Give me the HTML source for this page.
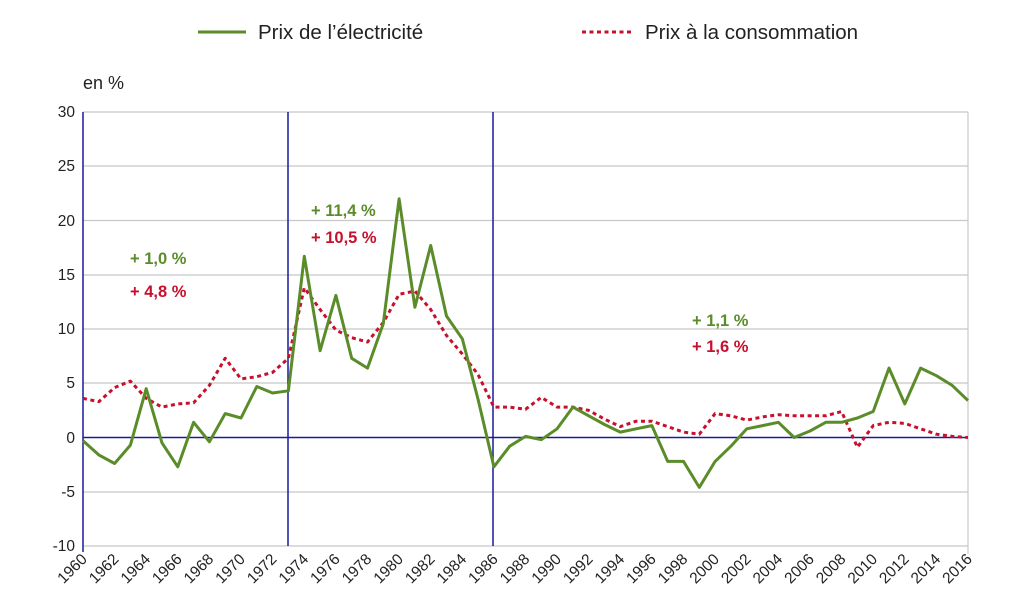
<!DOCTYPE html>
<html><head><meta charset="utf-8"><style>
body{margin:0;background:#fff;}
svg text{font-family:"Liberation Sans",sans-serif;}
</style></head><body>
<svg width="1024" height="609" xmlns="http://www.w3.org/2000/svg">
<g stroke="#c8c8c8" stroke-width="1.2">
<line x1="83" x2="968" y1="112" y2="112"/><line x1="83" x2="968" y1="166" y2="166"/>
<line x1="83" x2="968" y1="220.5" y2="220.5"/><line x1="83" x2="968" y1="275" y2="275"/>
<line x1="83" x2="968" y1="329" y2="329"/><line x1="83" x2="968" y1="383" y2="383"/>
<line x1="83" x2="968" y1="492" y2="492"/><line x1="83" x2="968" y1="546" y2="546"/>
<line x1="968" x2="968" y1="112" y2="554"/>
</g>
<g stroke="#1a1a9a" stroke-width="1.5">
<line x1="83" x2="83" y1="112" y2="552"/>
<line x1="83" x2="968" y1="437.5" y2="437.5"/>
<line x1="288" x2="288" y1="112" y2="546"/>
<line x1="493" x2="493" y1="112" y2="546"/>
</g>
<g font-size="15.5" fill="#222" text-anchor="end">
<text x="75" y="117">30</text><text x="75" y="171">25</text><text x="75" y="226">20</text>
<text x="75" y="280">15</text><text x="75" y="334">10</text><text x="75" y="388">5</text>
<text x="75" y="443">0</text><text x="75" y="497">-5</text><text x="75" y="551">-10</text>
</g>
<text x="83" y="89" font-size="18" fill="#222">en %</text>
<g font-size="15.5" fill="#222" text-anchor="end">
<text transform="translate(88,560) rotate(-45)">1960</text>
<text transform="translate(119.6,560) rotate(-45)">1962</text>
<text transform="translate(151.2,560) rotate(-45)">1964</text>
<text transform="translate(182.8,560) rotate(-45)">1966</text>
<text transform="translate(214.4,560) rotate(-45)">1968</text>
<text transform="translate(246,560) rotate(-45)">1970</text>
<text transform="translate(277.6,560) rotate(-45)">1972</text>
<text transform="translate(309.3,560) rotate(-45)">1974</text>
<text transform="translate(340.9,560) rotate(-45)">1976</text>
<text transform="translate(372.5,560) rotate(-45)">1978</text>
<text transform="translate(404.1,560) rotate(-45)">1980</text>
<text transform="translate(435.7,560) rotate(-45)">1982</text>
<text transform="translate(467.3,560) rotate(-45)">1984</text>
<text transform="translate(498.9,560) rotate(-45)">1986</text>
<text transform="translate(530.5,560) rotate(-45)">1988</text>
<text transform="translate(562.1,560) rotate(-45)">1990</text>
<text transform="translate(593.7,560) rotate(-45)">1992</text>
<text transform="translate(625.3,560) rotate(-45)">1994</text>
<text transform="translate(656.9,560) rotate(-45)">1996</text>
<text transform="translate(688.5,560) rotate(-45)">1998</text>
<text transform="translate(720.1,560) rotate(-45)">2000</text>
<text transform="translate(751.7,560) rotate(-45)">2002</text>
<text transform="translate(783.4,560) rotate(-45)">2004</text>
<text transform="translate(815,560) rotate(-45)">2006</text>
<text transform="translate(846.6,560) rotate(-45)">2008</text>
<text transform="translate(878.2,560) rotate(-45)">2010</text>
<text transform="translate(909.8,560) rotate(-45)">2012</text>
<text transform="translate(941.4,560) rotate(-45)">2014</text>
<text transform="translate(973,560) rotate(-45)">2016</text>
</g>
<polyline id="red" fill="none" stroke="#c8102e" stroke-width="3" stroke-dasharray="4 3.5" stroke-linejoin="round"/>
<polyline id="grn" fill="none" stroke="#5b8c2a" stroke-width="3" stroke-linejoin="round"/>
<g font-size="16.5" font-weight="bold">
<text x="130" y="264" fill="#5b8c2a">+ 1,0 %</text>
<text x="130" y="297" fill="#c8102e">+ 4,8 %</text>
<text x="311" y="216" fill="#5b8c2a">+ 11,4 %</text>
<text x="311" y="243" fill="#c8102e">+ 10,5 %</text>
<text x="692" y="326" fill="#5b8c2a">+ 1,1 %</text>
<text x="692" y="352" fill="#c8102e">+ 1,6 %</text>
</g>
<line x1="198" x2="246" y1="32" y2="32" stroke="#5b8c2a" stroke-width="3"/>
<text x="258" y="39" font-size="20.5" fill="#222">Prix de l’électricité</text>
<line x1="582" x2="633" y1="32" y2="32" stroke="#c8102e" stroke-width="3" stroke-dasharray="4 3.5"/>
<text x="645" y="39" font-size="20.5" fill="#222">Prix à la consommation</text>
<script>
var g=[-0.3,-1.6,-2.4,-0.7,4.5,-0.5,-2.7,1.4,-0.4,2.2,1.8,4.7,4.1,4.3,16.7,8.0,13.1,7.3,6.4,10.5,22.0,12.0,17.7,11.2,9.1,3.5,-2.7,-0.8,0.1,-0.2,0.8,2.8,2.0,1.2,0.5,0.8,1.1,-2.2,-2.2,-4.6,-2.2,-0.8,0.8,1.1,1.4,0.0,0.6,1.4,1.4,1.8,2.4,6.4,3.1,6.4,5.7,4.8,3.4];
var r=[3.6,3.3,4.6,5.2,3.6,2.8,3.1,3.2,4.8,7.3,5.4,5.6,6.0,7.3,13.8,11.8,9.9,9.2,8.8,10.6,13.2,13.5,11.8,9.4,7.7,5.8,2.8,2.8,2.6,3.7,2.8,2.8,2.5,1.7,1.0,1.5,1.5,1.0,0.5,0.3,2.2,2.0,1.6,1.9,2.1,2.0,2.0,2.0,2.4,-0.9,1.1,1.4,1.3,0.8,0.3,0.1,0.0];
function X(i){return 83+i*885/56}function Y(v){return 437.5-10.85*v}
function pts(a){return a.map(function(v,i){return X(i).toFixed(1)+","+Y(v).toFixed(1)}).join(" ")}
document.getElementById("grn").setAttribute("points",pts(g));
document.getElementById("red").setAttribute("points",pts(r));
</script>
</svg>
</body></html>
